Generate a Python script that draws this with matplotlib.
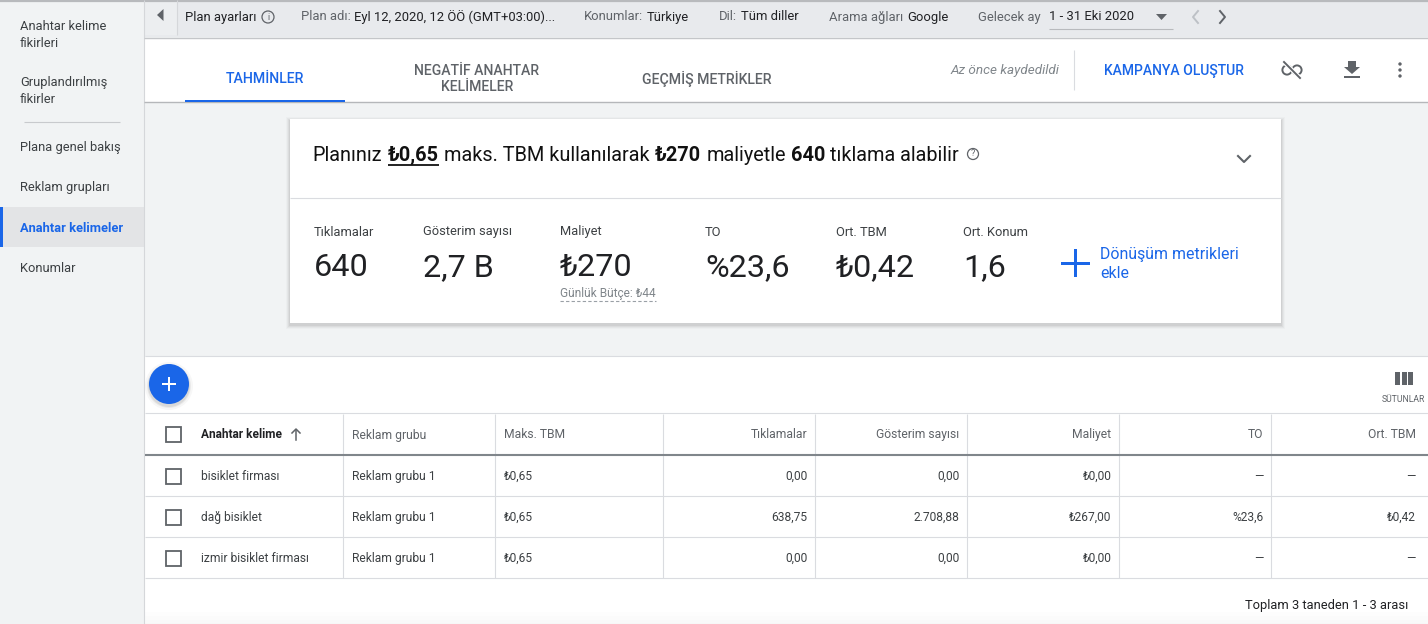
import matplotlib
matplotlib.use('Agg')
import matplotlib.pyplot as plt
from matplotlib.patches import Rectangle, Circle, Polygon

plt.rcParams['font.family'] = ['Roboto', 'DejaVu Sans']

# menu
side_items = ['Anahtar kelime\nfikirleri', 'Gruplandırılmış\nfikirler', 'Plana genel bakış',
              'Reklam grupları', 'Anahtar kelimeler', 'Konumlar']
side_y = [34, 90, 146, 186, 227, 267]

# plan bar
bar_labels = ['Plan adı:', 'Konumlar:', 'Dil:', 'Arama ağları', 'Gelecek ay']
bar_values = ['Eyl 12, 2020, 12 ÖÖ (GMT+03:00)...', 'Türkiye', 'Tüm diller', 'Google', '1 - 31 Eki 2020']
bar_label_x = [301, 584, 719, 829, 978]
bar_value_x = [354, 647, 741, 907, 1049]

# summary
metric_names = ['Tıklamalar', 'Gösterim sayısı', 'Maliyet', 'TO', 'Ort. TBM', 'Ort. Konum']
metric_values = ['640', '2,7 B', '₺270', '%23,6', '₺0,42', '1,6']
metric_x = [314, 423, 560, 705, 836, 963]

# table
columns = ['Anahtar kelime', 'Reklam grubu', 'Maks. TBM', 'Tıklamalar', 'Gösterim sayısı', 'Maliyet', 'TO', 'Ort. TBM']
keywords = ['bisiklet firması', 'dağ bisiklet', 'izmir bisiklet firması']
ad_groups = ['Reklam grubu 1', 'Reklam grubu 1', 'Reklam grubu 1']
max_cpc = ['₺0,65', '₺0,65', '₺0,65']
clicks = ['0,00', '638,75', '0,00']
impressions = ['0,00', '2.708,88', '0,00']
costs = ['₺0,00', '₺267,00', '₺0,00']
ctr = ['—', '%23,6', '—']
avg_cpc = ['—', '₺0,42', '—']

col_edges = [343, 495, 663, 815, 967, 1119, 1271]
row_y = [476, 517, 558]
row_lines = [497, 538, 579]

BLUE = '#1a66e8'
DARK = '#202124'
GREY = '#5f6368'
LINE = '#dadce0'

fig = plt.figure(figsize=(14.28, 6.24), dpi=100, facecolor='#f1f3f4')
ax = fig.add_axes([0, 0, 1, 1])
ax.set_xlim(0, 1428)
ax.set_ylim(624, 0)
ax.axis('off')


def rect(x, y, w, h, color, z=1, **kw):
    ax.add_patch(Rectangle((x, y), w, h, facecolor=color, edgecolor='none', zorder=z, **kw))


def hline(x0, x1, y, color=LINE, lw=0.8, z=3, **kw):
    ax.plot([x0, x1], [y - 1, y - 1], color=color, lw=lw, zorder=z, solid_capstyle='butt', **kw)


def vline(x, y0, y1, color=LINE, lw=0.8, z=3):
    ax.plot([x - 1, x - 1], [y0, y1], color=color, lw=lw, zorder=z, solid_capstyle='butt')


def txt(x, y, s, size=9, color=DARK, ha='left', weight='normal', **kw):
    return ax.text(x, y + 1, s, fontsize=size, color=color, ha=ha, va='center', fontweight=weight, zorder=6, **kw)


def shadow(x, y, w, h, z=1):
    for i, a in zip([4, 3, 2, 1], [0.02, 0.03, 0.04, 0.05]):
        rect(x - i, y - i + 2, w + 2 * i, h + 2 * i, 'black', z=z, alpha=a)


def checkbox(cx, cy):
    ax.add_patch(Rectangle((cx - 7.5, cy - 7.5), 15, 15, facecolor='white', edgecolor='#5f6368',
                           lw=1.3, zorder=5))


# background blocks
rect(0, 0, 144, 624, '#f1f3f4')
rect(144, 0, 1284, 37, '#e8eaed')
hline(0, 1428, 1.8, color='#b8babd', lw=1.6)
vline(145, 0, 624, color='#d5d7da')

# sidebar
rect(0, 207, 144, 40, '#e3e4e6')
rect(0, 207, 3, 40, BLUE, z=2)
hline(24, 120, 123, color='#c8cacd')
for i, (label, y) in enumerate(zip(side_items, side_y)):
    selected = label == 'Anahtar kelimeler'
    txt(20, y, label, size=9.3, color=BLUE if selected else '#3c4043', weight='bold' if selected else 'normal',
        linespacing=1.42)

# plan bar
rect(144, 0, 33, 35, '#eceef0', z=2)
vline(178, 0, 35, color='#d5d7da')
ax.add_patch(Polygon([[163.5, 9], [163.5, 21], [157, 15]], facecolor=GREY, zorder=5))
txt(185, 16, 'Plan ayarları', size=9.4)
ax.add_patch(Circle((268, 17), 6, facecolor='none', edgecolor=GREY, lw=0.9, zorder=5))
txt(268, 16, 'i', size=6.5, color=GREY, ha='center')
for lx, s in zip(bar_label_x, bar_labels):
    txt(lx, 16, s, size=9.4, color=GREY)
for vx, s in zip(bar_value_x, bar_values):
    txt(vx, 16, s, size=9.4)
hline(1049, 1173, 29.5, color='#b8babd')
ax.add_patch(Polygon([[1156, 14], [1167, 14], [1161.5, 20]], facecolor=GREY, zorder=5))
ax.plot([1198, 1193, 1198], [11, 17, 23], color='#bdc1c6', lw=1.4, zorder=5)
ax.plot([1220, 1225, 1220], [11, 17, 23], color=GREY, lw=1.4, zorder=5)

# tab bar
rect(144, 38, 1284, 64, 'white', z=2)
hline(144, 1428, 38.5, color='#c4c6c9', lw=1.0)
hline(144, 1428, 103, color='#b5b7ba', lw=1.0)
rect(185, 100, 160, 2.2, BLUE, z=3)
txt(265, 78, 'TAHMİNLER', size=10.2, color=BLUE, ha='center', weight='medium')
txt(477, 78, 'NEGATİF ANAHTAR\nKELİMELER', size=10.1, color=GREY, ha='center', weight='medium', linespacing=1.2)
txt(707, 78, 'GEÇMİŞ METRİKLER', size=10.2, color=GREY, ha='center', weight='medium')
txt(1059, 69.5, 'Az önce kaydedildi', size=9.7, color='#80868b', ha='right', style='italic')
vline(1075, 50, 90)
txt(1174, 69.5, 'KAMPANYA OLUŞTUR', size=10, color=BLUE, ha='center', weight='medium')
# unlink icon
ax.add_patch(Circle((1287, 70), 4.6, facecolor='none', edgecolor=GREY, lw=1.4, zorder=5))
ax.add_patch(Circle((1297, 70), 4.6, facecolor='none', edgecolor=GREY, lw=1.4, zorder=5))
ax.plot([1284, 1300], [62, 78], color='white', lw=3.2, zorder=5.5)
ax.plot([1284, 1300], [62, 78], color=GREY, lw=1.4, zorder=5.6)
# download icon
ax.add_patch(Polygon([[1348, 61], [1356, 61], [1356, 67], [1360, 67], [1352, 74], [1344, 67], [1348, 67]],
                     facecolor=GREY, zorder=5))
rect(1344, 76, 16, 1.8, GREY, z=5)
for dot_y in [64, 70, 76]:
    ax.add_patch(Circle((1400, dot_y), 1.7, facecolor=GREY, zorder=5))

# summary card
shadow(290, 119, 990.5, 204)
rect(290, 119, 990.5, 204, 'white', z=2)
hline(290, 1281, 199)
title_parts = [('Planınız', 312.5, 'normal'), ('₺0,65', 388, 'bold'), ('maks. TBM kullanılarak', 444, 'normal'),
               ('₺270', 655, 'bold'), ('maliyetle', 707, 'normal'), ('640', 791, 'bold'),
               ('tıklama alabilir', 830, 'normal')]
for s, x, w in title_parts:
    txt(x, 154.5, s, size=14.3, color='#111111', weight=w)
hline(388, 439, 165.5, color='#111111', lw=1.3)
ax.add_patch(Circle((973, 154), 5.5, facecolor='none', edgecolor=GREY, lw=0.9, zorder=5))
txt(973, 153, '?', size=6.5, color=GREY, ha='center')
ax.plot([1238, 1244, 1250], [156, 162, 156], color=GREY, lw=1.5, zorder=5)

for x, name, val in zip(metric_x, metric_names, metric_values):
    txt(x, 231, name, size=9.3, color='#3c4043')
    txt(x, 267, val, size=23.3, color='#202124')
txt(560, 292, 'Günlük Bütçe: ₺44', size=8.6, color='#80868b')
ax.plot([560, 656], [300.5, 300.5], color='#9aa0a6', lw=0.8, ls=(0, (3, 2)), zorder=5)
rect(1061, 261.5, 29, 3, BLUE, z=5)
rect(1074, 249, 3, 28, BLUE, z=5)
txt(1100, 263, 'Dönüşüm metrikleri\nekle', size=11.4, color=BLUE, linespacing=1.38)

# table area
rect(145, 357, 1283, 267, 'white', z=2)
hline(145, 1428, 357)
for y, c, in zip([612, 616, 620, 623], ['#fdfdfd', '#fbfbfb', '#f9f9f9', '#f7f7f7']):
    rect(145, y, 1283, 624 - y, c, z=2)

# add button
for r, a in zip([24, 22, 21], [0.03, 0.05, 0.07]):
    ax.add_patch(Circle((169, 386), r, facecolor='black', alpha=a, edgecolor='none', zorder=3))
ax.add_patch(Circle((169, 384), 20, facecolor=BLUE, edgecolor='none', zorder=4))
rect(162, 383.2, 14, 1.8, 'white', z=5)
rect(168.1, 377, 1.8, 14, 'white', z=5)

# columns icon
for ix in [1395, 1401.5, 1408]:
    rect(ix, 372, 5, 13, GREY, z=5)
txt(1403, 399, 'SÜTUNLAR', size=6.2, color=GREY, ha='center')

# table grid
hline(145, 1428, 414)
ax.plot([145, 1428], [455, 455], color='#80868b', lw=1.5, zorder=4, solid_capstyle='butt')
for y in row_lines:
    hline(145, 1428, y)
for x in col_edges:
    vline(x + 1, 414, 578)

# header
checkbox(173, 434)
txt(201, 433.5, columns[0], size=8.6, weight='bold')
ax.plot([296, 296], [440, 430], color=GREY, lw=1.1, zorder=5)
ax.plot([292, 296, 300], [433, 429, 433], color=GREY, lw=1.1, zorder=5)
txt(352, 434, columns[1], size=8.7, color=GREY)
txt(504, 433.5, columns[2], size=8.7, color=GREY)
right_x = [e - 7.5 for e in col_edges[3:]] + [1416]
for x, name in zip(right_x, columns[3:]):
    txt(x, 433.5, name, size=8.7, color=GREY, ha='right')

# rows
rows = zip(keywords, ad_groups, max_cpc, clicks, impressions, costs, ctr, avg_cpc, row_y)
for kw, grp, cpc, clk, imp, cst, t, avg, y in rows:
    checkbox(173, y)
    txt(201, y - 0.5, kw, size=8.65, color='#3c4043')
    txt(352, y - 0.5, grp, size=8.65, color='#3c4043')
    txt(504, y - 0.5, cpc, size=8.65, color='#3c4043')
    for x, s in zip(right_x, [clk, imp, cst, t, avg]):
        txt(x, y - 0.5, s, size=8.65, color='#3c4043', ha='right')

txt(1408, 604, 'Toplam 3 taneden 1 - 3 arası', size=9.3, color='#202124', ha='right')

plt.savefig('out.png', dpi=100, facecolor=fig.get_facecolor())
